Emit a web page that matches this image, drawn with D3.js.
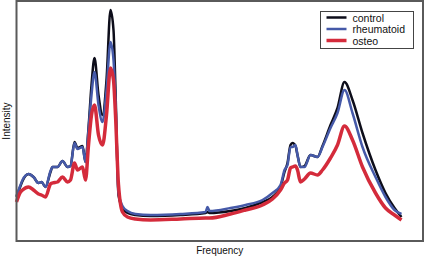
<!DOCTYPE html>
<html>
<head>
<meta charset="utf-8">
<script src="https://cdn.jsdelivr.net/npm/d3@7"></script>
<style>
  body { margin: 0; background: #fff; }
  text { font-family: "Liberation Sans", Arial, sans-serif; fill: #111; }
</style>
</head>
<body>
<svg width="425" height="258"></svg>
<script>
// frequency (arbitrary units) shared by all three spectra
const frequency = [0, 4, 6, 12, 17, 22, 25, 29, 34, 36, 41, 46, 51, 54, 58, 61, 66, 69, 72, 75,
  78, 82, 86, 90, 94, 97, 99, 102, 106, 111, 119, 134, 164, 189, 191, 193, 214, 229, 246, 256,
  264, 268, 271, 274, 276, 279, 281, 284, 288, 294, 301, 306, 314, 321, 328, 336, 346, 359, 369, 378, 385];

// intensity (arbitrary units)
const control = [44, 55, 60, 67, 64, 58, 59, 54, 69, 74, 74, 80, 74, 75, 99, 93, 95, 79, 113, 156,
  183, 146, 126, 161, 231, 211, 151, 46, 33, 28, 26, 25, 26, 28, 29, 28, 30, 33, 39, 44,
  54, 69, 78, 96, 98, 95, 86, 74, 75, 86, 84, 95, 116, 133, 159, 141, 108, 71, 48, 33, 24];
const rheumatoid = [45, 56, 61, 67, 64, 58, 59, 54, 70, 74, 74, 80, 74, 75, 98, 92, 94, 79, 111, 146,
  169, 136, 119, 151, 199, 181, 141, 48, 35, 30, 27, 26, 27, 29, 34, 30, 33, 36, 41, 48,
  56, 71, 76, 94, 94, 96, 86, 74, 74, 86, 84, 94, 113, 128, 151, 128, 94, 64, 44, 31, 27];
const osteo = [39, 49, 51, 54, 51, 47, 46, 44, 57, 58, 59, 64, 59, 61, 78, 71, 74, 61, 96, 126,
  136, 106, 96, 126, 173, 161, 126, 56, 29, 24, 22, 21, 22, 23, 23, 23, 27, 31, 36, 42,
  51, 58, 61, 73, 74, 75, 71, 59, 62, 68, 66, 71, 83, 96, 115, 101, 74, 48, 33, 26, 21];

const seriesNames = ["control", "rheumatoid", "osteo"];
const seriesValues = [control, rheumatoid, osteo];
const seriesColors = ["#0d0d1a", "#4559a8", "#d42b3b"];
const seriesWidths = [2.5, 2.5, 3.5];

const svg = d3.select("svg");
const frame = { left: 16.5, top: 1, right: 423, bottom: 241 };

const x = d3.scaleLinear().domain([0, 406.5]).range([frame.left, frame.right]);
const y = d3.scaleLinear().domain([0, 240]).range([frame.bottom, frame.top]);

const line = d3.line()
  .x(d => x(d[0]))
  .y(d => y(d[1]))
  .curve(d3.curveMonotoneX);

const lineGroup = svg.append("g").attr("class", "lines");
seriesValues.forEach((vals, i) => {
  lineGroup.append("path")
    .datum(frequency.map((f, j) => [f, vals[j]]))
    .attr("d", line)
    .attr("fill", "none")
    .attr("stroke", seriesColors[i])
    .attr("stroke-width", seriesWidths[i])
    .attr("stroke-linejoin", "round");
});

// plot frame
svg.append("rect")
  .attr("x", frame.left)
  .attr("y", frame.top)
  .attr("width", frame.right - frame.left)
  .attr("height", frame.bottom - frame.top)
  .attr("fill", "none")
  .attr("stroke", "#5a5a5a")
  .attr("stroke-width", 2);

// axis titles
svg.append("text")
  .attr("x", (frame.left + frame.right) / 2)
  .attr("y", 254)
  .attr("text-anchor", "middle")
  .attr("font-size", 10)
  .text("Frequency");

svg.append("text")
  .attr("transform", `translate(10, ${(frame.top + frame.bottom) / 2}) rotate(-90)`)
  .attr("text-anchor", "middle")
  .attr("font-size", 10)
  .text("Intensity");

// legend
const legend = svg.append("g").attr("transform", "translate(320.5, 11.5)");
legend.append("rect")
  .attr("width", 93)
  .attr("height", 37)
  .attr("fill", "#fff")
  .attr("stroke", "#444")
  .attr("stroke-width", 1);

seriesNames.forEach((name, i) => {
  const ly = 6 + i * 11.5;
  legend.append("line")
    .attr("x1", 6).attr("x2", 26)
    .attr("y1", ly).attr("y2", ly)
    .attr("stroke", seriesColors[i])
    .attr("stroke-width", seriesWidths[i]);
  legend.append("text")
    .attr("x", 32)
    .attr("y", ly + 4)
    .attr("font-size", 10.5)
    .text(name);
});
</script>
</body>
</html>
